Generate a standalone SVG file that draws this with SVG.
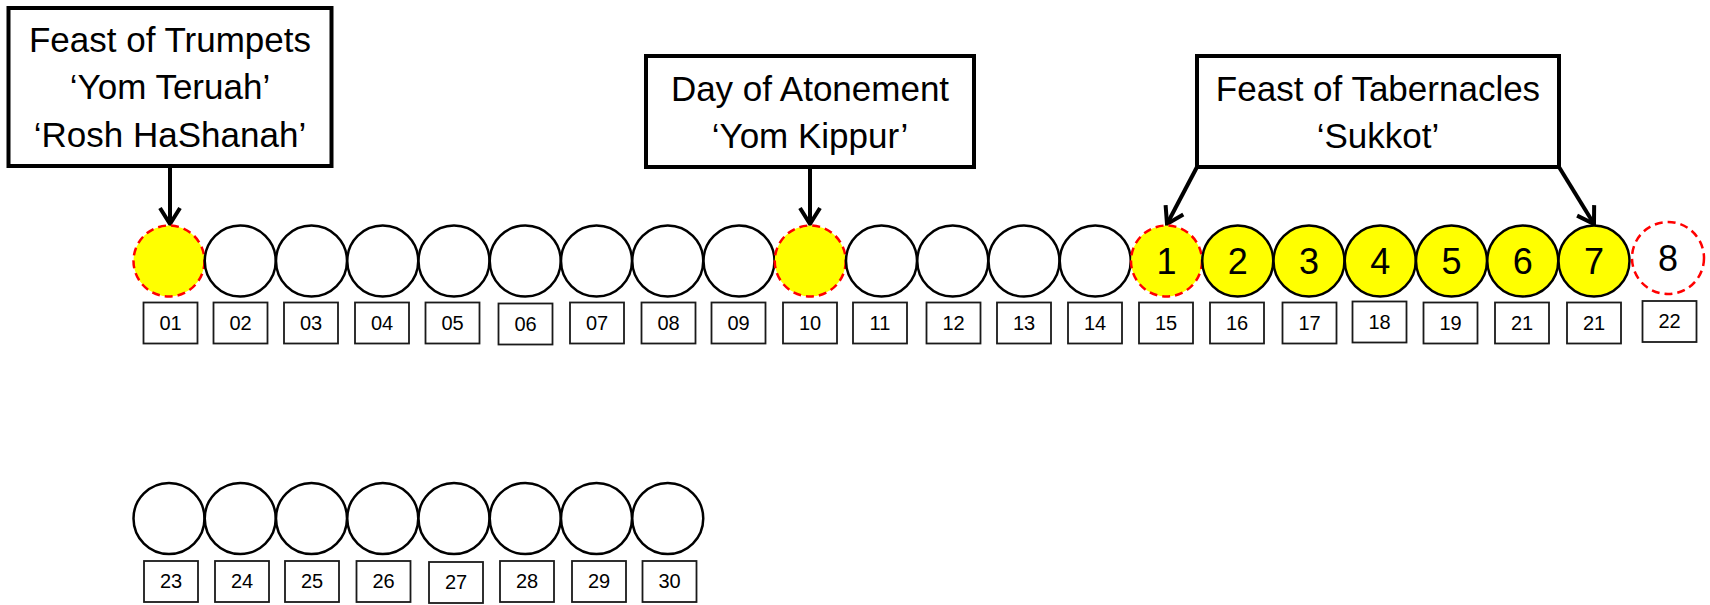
<svg xmlns="http://www.w3.org/2000/svg" width="1710" height="605" viewBox="0 0 1710 605">
<defs>
<style>
.lbl{fill:#fff;stroke:#000;stroke-width:4}
.lt{font-family:"Liberation Sans",Arial,sans-serif;font-size:35px;fill:#000;text-anchor:middle}
.day{fill:#fff;stroke:#000;stroke-width:2.5}
.yel{fill:#ffff00;stroke:#000;stroke-width:2.5}
.fest{fill:#ffff00;stroke:#ff0000;stroke-width:2.5;stroke-dasharray:8 5}
.ext{fill:#fff;stroke:#ff0000;stroke-width:2.5;stroke-dasharray:8 5}
.dt{font-family:"Liberation Sans",Arial,sans-serif;font-size:36px;fill:#000;text-anchor:middle}
.nb{fill:#fff;stroke:#1a1a1a;stroke-width:1.8}
.nt{font-family:"Liberation Sans",Arial,sans-serif;font-size:20px;fill:#000;text-anchor:middle}
.conn{stroke:#000;stroke-width:4;fill:none}
</style>
<marker id="arr" markerUnits="userSpaceOnUse" viewBox="0 0 22 26" refX="19" refY="13" markerWidth="22" markerHeight="26" orient="auto" overflow="visible">
<path d="M3,3 L19,13 L3,23" fill="none" stroke="#000" stroke-width="4" stroke-linejoin="miter"/>
</marker>
</defs>
<rect width="1710" height="605" fill="#fff"/>

<g id="label-trumpets">
<rect class="lbl" x="8.5" y="8" width="323" height="158"/>
<text class="lt" x="170" y="52">Feast of Trumpets</text>
<text class="lt" x="170" y="99">‘Yom Teruah’</text>
<text class="lt" x="170" y="147">‘Rosh HaShanah’</text>
</g>
<g id="label-atonement">
<rect class="lbl" x="646" y="56" width="328" height="111"/>
<text class="lt" x="810" y="101">Day of Atonement</text>
<text class="lt" x="810" y="148">‘Yom Kippur’</text>
</g>
<g id="label-tabernacles">
<rect class="lbl" x="1197" y="56" width="362" height="111"/>
<text class="lt" x="1378" y="101">Feast of Tabernacles</text>
<text class="lt" x="1378" y="148">‘Sukkot’</text>
</g>

<g id="connectors">
<line class="conn" x1="170" y1="166" x2="170" y2="224" marker-end="url(#arr)"/>
<line class="conn" x1="810" y1="167" x2="810" y2="224" marker-end="url(#arr)"/>
<line class="conn" x1="1197" y1="167" x2="1167" y2="224" marker-end="url(#arr)"/>
<line class="conn" x1="1559" y1="167" x2="1594" y2="224" marker-end="url(#arr)"/>
</g>

<g id="day-01"><circle class="fest" cx="169" cy="261" r="35.5"/><rect class="nb" x="143.5" y="302.5" width="54" height="41"/><text class="nt" x="170.5" y="330">01</text></g>
<g id="day-02"><circle class="day" cx="240.25" cy="261" r="35.5"/><rect class="nb" x="213.5" y="302.5" width="54" height="41"/><text class="nt" x="240.5" y="330">02</text></g>
<g id="day-03"><circle class="day" cx="311.5" cy="261" r="35.5"/><rect class="nb" x="284" y="302.5" width="54" height="41"/><text class="nt" x="311" y="330">03</text></g>
<g id="day-04"><circle class="day" cx="382.75" cy="261" r="35.5"/><rect class="nb" x="355" y="302.5" width="54" height="41"/><text class="nt" x="382" y="330">04</text></g>
<g id="day-05"><circle class="day" cx="454" cy="261" r="35.5"/><rect class="nb" x="425.5" y="302.5" width="54" height="41"/><text class="nt" x="452.5" y="330">05</text></g>
<g id="day-06"><circle class="day" cx="525.25" cy="261" r="35.5"/><rect class="nb" x="498.5" y="303.5" width="54" height="41"/><text class="nt" x="525.5" y="331">06</text></g>
<g id="day-07"><circle class="day" cx="596.5" cy="261" r="35.5"/><rect class="nb" x="570" y="302.5" width="54" height="41"/><text class="nt" x="597" y="330">07</text></g>
<g id="day-08"><circle class="day" cx="667.75" cy="261" r="35.5"/><rect class="nb" x="641.5" y="302.5" width="54" height="41"/><text class="nt" x="668.5" y="330">08</text></g>
<g id="day-09"><circle class="day" cx="739" cy="261" r="35.5"/><rect class="nb" x="711.5" y="302.5" width="54" height="41"/><text class="nt" x="738.5" y="330">09</text></g>
<g id="day-10"><circle class="fest" cx="810.25" cy="261" r="35.5"/><rect class="nb" x="783" y="302.5" width="54" height="41"/><text class="nt" x="810" y="330">10</text></g>
<g id="day-11"><circle class="day" cx="881.5" cy="261" r="35.5"/><rect class="nb" x="853" y="302.5" width="54" height="41"/><text class="nt" x="880" y="330">11</text></g>
<g id="day-12"><circle class="day" cx="952.75" cy="261" r="35.5"/><rect class="nb" x="926.5" y="302.5" width="54" height="41"/><text class="nt" x="953.5" y="330">12</text></g>
<g id="day-13"><circle class="day" cx="1024" cy="261" r="35.5"/><rect class="nb" x="997" y="302.5" width="54" height="41"/><text class="nt" x="1024" y="330">13</text></g>
<g id="day-14"><circle class="day" cx="1095.25" cy="261" r="35.5"/><rect class="nb" x="1068" y="302.5" width="54" height="41"/><text class="nt" x="1095" y="330">14</text></g>
<g id="day-15"><circle class="fest" cx="1166.5" cy="261" r="35.5"/><text class="dt" x="1166.5" y="274">1</text><rect class="nb" x="1139" y="302.5" width="54" height="41"/><text class="nt" x="1166" y="330">15</text></g>
<g id="day-16"><circle class="yel" cx="1237.75" cy="261" r="35.5"/><text class="dt" x="1237.75" y="274">2</text><rect class="nb" x="1210" y="302.5" width="54" height="41"/><text class="nt" x="1237" y="330">16</text></g>
<g id="day-17"><circle class="yel" cx="1309" cy="261" r="35.5"/><text class="dt" x="1309" y="274">3</text><rect class="nb" x="1282.5" y="302.5" width="54" height="41"/><text class="nt" x="1309.5" y="330">17</text></g>
<g id="day-18"><circle class="yel" cx="1380.25" cy="261" r="35.5"/><text class="dt" x="1380.25" y="274">4</text><rect class="nb" x="1352.5" y="301.5" width="54" height="41"/><text class="nt" x="1379.5" y="329">18</text></g>
<g id="day-19"><circle class="yel" cx="1451.5" cy="261" r="35.5"/><text class="dt" x="1451.5" y="274">5</text><rect class="nb" x="1423.5" y="302.5" width="54" height="41"/><text class="nt" x="1450.5" y="330">19</text></g>
<g id="day-20"><circle class="yel" cx="1522.75" cy="261" r="35.5"/><text class="dt" x="1522.75" y="274">6</text><rect class="nb" x="1495" y="302.5" width="54" height="41"/><text class="nt" x="1522" y="330">21</text></g>
<g id="day-21"><circle class="yel" cx="1594" cy="261" r="35.5"/><text class="dt" x="1594" y="274">7</text><rect class="nb" x="1567" y="302.5" width="54" height="41"/><text class="nt" x="1594" y="330">21</text></g>
<g id="day-22"><circle class="ext" cx="1668" cy="258" r="36"/><text class="dt" x="1668" y="271">8</text><rect class="nb" x="1642.5" y="301" width="54" height="41"/><text class="nt" x="1669.5" y="328">22</text></g>

<g id="day-23"><circle class="day" cx="169" cy="518.5" r="35.5"/><rect class="nb" x="144" y="561" width="54" height="41"/><text class="nt" x="171" y="588">23</text></g>
<g id="day-24"><circle class="day" cx="240.25" cy="518.5" r="35.5"/><rect class="nb" x="215" y="561" width="54" height="41"/><text class="nt" x="242" y="588">24</text></g>
<g id="day-25"><circle class="day" cx="311.5" cy="518.5" r="35.5"/><rect class="nb" x="285" y="561" width="54" height="41"/><text class="nt" x="312" y="588">25</text></g>
<g id="day-26"><circle class="day" cx="382.75" cy="518.5" r="35.5"/><rect class="nb" x="356.5" y="561" width="54" height="41"/><text class="nt" x="383.5" y="588">26</text></g>
<g id="day-27"><circle class="day" cx="454" cy="518.5" r="35.5"/><rect class="nb" x="429" y="562" width="54" height="41"/><text class="nt" x="456" y="589">27</text></g>
<g id="day-28"><circle class="day" cx="525.25" cy="518.5" r="35.5"/><rect class="nb" x="500" y="561" width="54" height="41"/><text class="nt" x="527" y="588">28</text></g>
<g id="day-29"><circle class="day" cx="596.5" cy="518.5" r="35.5"/><rect class="nb" x="572" y="561" width="54" height="41"/><text class="nt" x="599" y="588">29</text></g>
<g id="day-30"><circle class="day" cx="667.75" cy="518.5" r="35.5"/><rect class="nb" x="642.5" y="561" width="54" height="41"/><text class="nt" x="669.5" y="588">30</text></g>
</svg>
